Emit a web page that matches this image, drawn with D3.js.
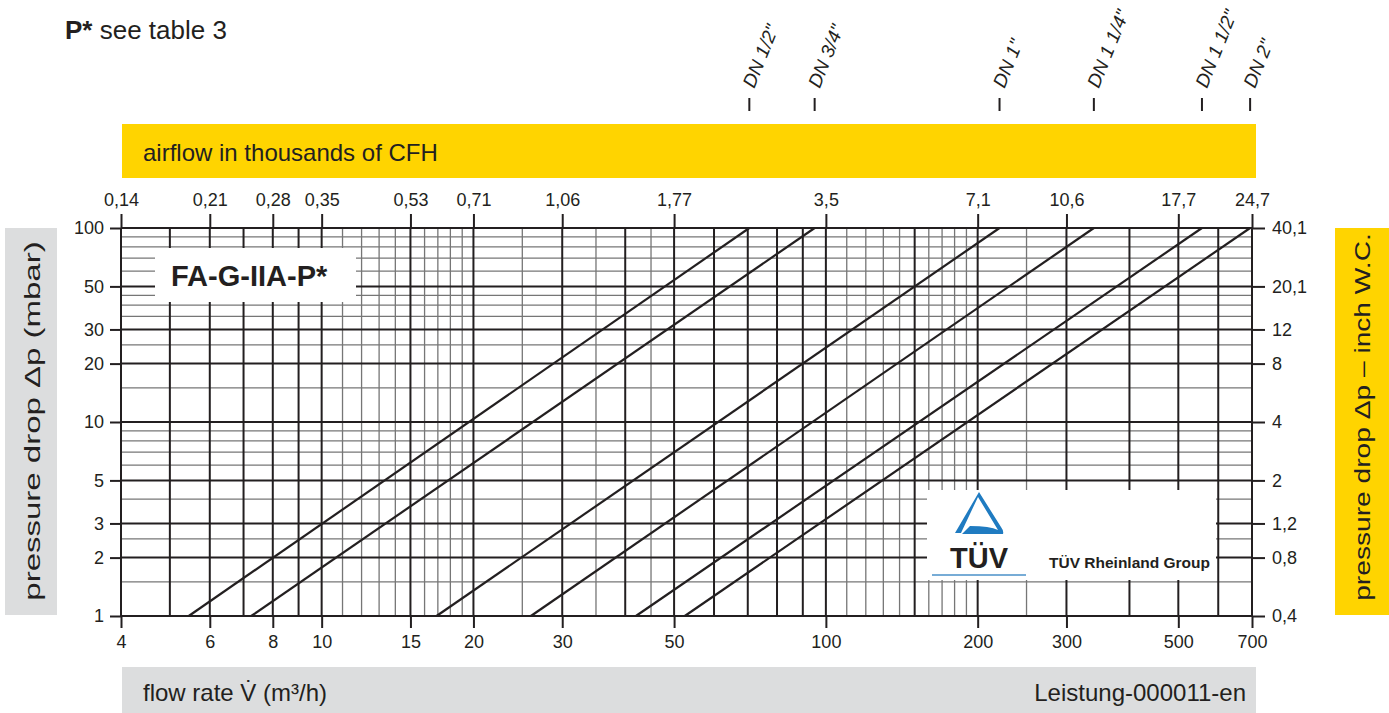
<!DOCTYPE html>
<html>
<head>
<meta charset="utf-8">
<script src="https://cdn.jsdelivr.net/npm/d3@7"></script>
<style>
  body { margin: 0; background: #fff; }
  text { font-family: "Liberation Sans", Arial, sans-serif; fill: #231f20; }
</style>
</head>
<body>
<svg id="chart"></svg>
<script>
// pressure drop curves, one per pipe size (flow in m3/h at 1 and 100 mbar)
const dnLabels = ['DN 1/2"', 'DN 3/4"', 'DN 1"', 'DN 1 1/4"', 'DN 1 1/2"', 'DN 2"'];
const flowAt1mbar = [5.45, 7.25, 16.9, 26, 42, 52.5];
const flowAt100mbar = [70.5, 95, 221, 340, 557, 694];

// axis ticks
const flowTicks = [4, 6, 8, 10, 15, 20, 30, 50, 100, 200, 300, 500, 700];
const cfhLabels = ['0,14', '0,21', '0,28', '0,35', '0,53', '0,71', '1,06', '1,77', '3,5', '7,1', '10,6', '17,7', '24,7'];
const dpTicks = [1, 2, 3, 5, 10, 20, 30, 50, 100];
const wcLabels = ['0,4', '0,8', '1,2', '2', '4', '8', '12', '20,1', '40,1'];

// grid lines
const vGridMajor = [4, 5, 6, 7, 8, 9, 10, 15, 20, 30, 40, 50, 60, 70, 80, 90, 100, 150, 200, 300, 400, 500, 600, 700];
const vGridMinor = [11, 12, 13, 14, 16, 17, 18, 19, 25, 35, 45, 110, 120, 130, 140, 160, 170, 180, 190, 250];
const hGridMajor = [1, 2, 3, 5, 10, 20, 30, 50, 100];
const hGridMinor = [1.5, 2.5, 4, 6, 7, 8, 9, 15, 25, 35, 40, 45, 60, 70, 80, 90];

const W = 1389, H = 713;
const plot = { left: 121, right: 1252, top: 228, bottom: 616 };
const ink = '#231f20', yellow = '#ffd400', grey = '#dcddde';

const svg = d3.select('#chart').attr('width', W).attr('height', H);

const x = d3.scaleLog().domain([4, 700]).range([plot.left, plot.right]);
const y = d3.scaleLog().domain([1, 100]).range([plot.bottom, plot.top]);

// bands
svg.append('rect').attr('x', 122).attr('y', 124).attr('width', 1134).attr('height', 54).attr('fill', yellow);
svg.append('rect').attr('x', 122).attr('y', 667).attr('width', 1134).attr('height', 46).attr('fill', grey);
svg.append('rect').attr('x', 5).attr('y', 228).attr('width', 52).attr('height', 387).attr('fill', grey);
svg.append('rect').attr('x', 1335).attr('y', 228).attr('width', 54).attr('height', 387).attr('fill', yellow);

svg.append('text').attr('x', 143).attr('y', 161).attr('font-size', 24).text('airflow in thousands of CFH');
svg.append('text').attr('x', 143).attr('y', 701).attr('font-size', 24).text('flow rate V\u0307  (m³/h)');
svg.append('text').attr('x', 1246).attr('y', 701).attr('font-size', 24).attr('text-anchor', 'end').text('Leistung-000011-en');
// side titles are drawn long and narrow like in the print
svg.append('text').attr('transform', 'translate(40,421) rotate(-90) scale(1.5,1)').attr('font-size', 22)
  .attr('text-anchor', 'middle').text('pressure drop \u0394p (mbar)');
svg.append('text').attr('transform', 'translate(1370,417) rotate(-90) scale(1.28,1)').attr('font-size', 22)
  .attr('text-anchor', 'middle').text('pressure drop \u0394p \u2013 inch W.C.');

const head = svg.append('text').attr('x', 65).attr('y', 39).attr('font-size', 26);
head.append('tspan').attr('font-weight', 'bold').text('P*');
head.append('tspan').text(' see table 3');

// grid
const grid = svg.append('g');
grid.selectAll('line.hmin').data(hGridMinor).join('line').attr('class', 'hmin')
  .attr('x1', plot.left).attr('x2', plot.right).attr('y1', d => y(d)).attr('y2', d => y(d))
  .attr('stroke', '#767676').attr('stroke-width', 1.3);
grid.selectAll('line.vmin').data(vGridMinor).join('line').attr('class', 'vmin')
  .attr('y1', plot.top).attr('y2', plot.bottom).attr('x1', d => x(d)).attr('x2', d => x(d))
  .attr('stroke', '#767676').attr('stroke-width', 1.3);
grid.selectAll('line.hmaj').data(hGridMajor).join('line').attr('class', 'hmaj')
  .attr('x1', plot.left).attr('x2', plot.right).attr('y1', d => y(d)).attr('y2', d => y(d))
  .attr('stroke', ink).attr('stroke-width', 2);
grid.selectAll('line.vmaj').data(vGridMajor).join('line').attr('class', 'vmaj')
  .attr('y1', plot.top).attr('y2', plot.bottom).attr('x1', d => x(d)).attr('x2', d => x(d))
  .attr('stroke', ink).attr('stroke-width', 2);

// axes
function styleAxis(g) {
  g.select('.domain').remove();
  g.selectAll('.tick line').attr('stroke', ink).attr('stroke-width', 2);
  g.selectAll('.tick text').attr('fill', '#333').attr('font-size', 18)
    .attr('font-family', '"Liberation Sans", Arial, sans-serif');
}
svg.append('g').attr('transform', `translate(0,${plot.bottom})`)
  .call(d3.axisBottom(x).tickValues(flowTicks).tickFormat(d3.format('d')).tickSize(12).tickPadding(7))
  .call(styleAxis);
svg.append('g').attr('transform', `translate(0,${plot.top})`)
  .call(d3.axisTop(x).tickValues(flowTicks).tickFormat((d, i) => cfhLabels[i]).tickSize(14).tickPadding(8))
  .call(styleAxis);
svg.append('g').attr('transform', `translate(${plot.left},0)`)
  .call(d3.axisLeft(y).tickValues(dpTicks).tickFormat(d3.format('d')).tickSize(11).tickPadding(6))
  .call(styleAxis);
svg.append('g').attr('transform', `translate(${plot.right},0)`)
  .call(d3.axisRight(y).tickValues(dpTicks).tickFormat((d, i) => wcLabels[i]).tickSize(13).tickPadding(7))
  .call(styleAxis);

// model label box
svg.append('rect').attr('x', 155).attr('y', 248).attr('width', 201).attr('height', 54).attr('fill', '#fff');
svg.append('text').attr('x', 171).attr('y', 286).attr('font-size', 29).attr('font-weight', 'bold').text('FA-G-IIA-P*');

// TÜV box
const tuv = svg.append('g');
tuv.append('rect').attr('x', 927).attr('y', 490).attr('width', 289).attr('height', 90).attr('fill', '#fff');
tuv.append('path')
  .attr('d', 'M978,497 L998,530 Q990,526 970,526 L962,534 L1003,534 Q1004,531 1001,527 L979,492 L955,533 L961,533 Z')
  .attr('fill', '#1f7bc1');
tuv.append('text').attr('x', 979).attr('y', 568).attr('font-size', 29).attr('font-weight', 'bold')
  .attr('text-anchor', 'middle').attr('fill', '#000').text('TÜV');
tuv.append('line').attr('x1', 932).attr('x2', 1026).attr('y1', 575).attr('y2', 575)
  .attr('stroke', '#4a90c8').attr('stroke-width', 1.5);
tuv.append('text').attr('x', 1049).attr('y', 568).attr('font-size', 15.5).attr('font-weight', 'bold')
  .attr('fill', '#1a1a1a').text('TÜV Rheinland Group');

// pressure drop lines
svg.append('g').selectAll('line.dp').data(dnLabels).join('line').attr('class', 'dp')
  .attr('x1', (d, i) => x(flowAt1mbar[i])).attr('y1', y(1))
  .attr('x2', (d, i) => x(flowAt100mbar[i])).attr('y2', y(100))
  .attr('stroke', ink).attr('stroke-width', 2.2);

// pipe size markers
const dn = svg.append('g').selectAll('g').data(dnLabels).join('g')
  .attr('transform', (d, i) => `translate(${x(flowAt100mbar[i])},0)`);
dn.append('line').attr('y1', 98).attr('y2', 111).attr('stroke', ink).attr('stroke-width', 2);
dn.append('text').attr('transform', 'translate(5,89) rotate(-68)').attr('font-size', 19)
  .attr('font-style', 'italic').text(d => d);
</script>
</body>
</html>
